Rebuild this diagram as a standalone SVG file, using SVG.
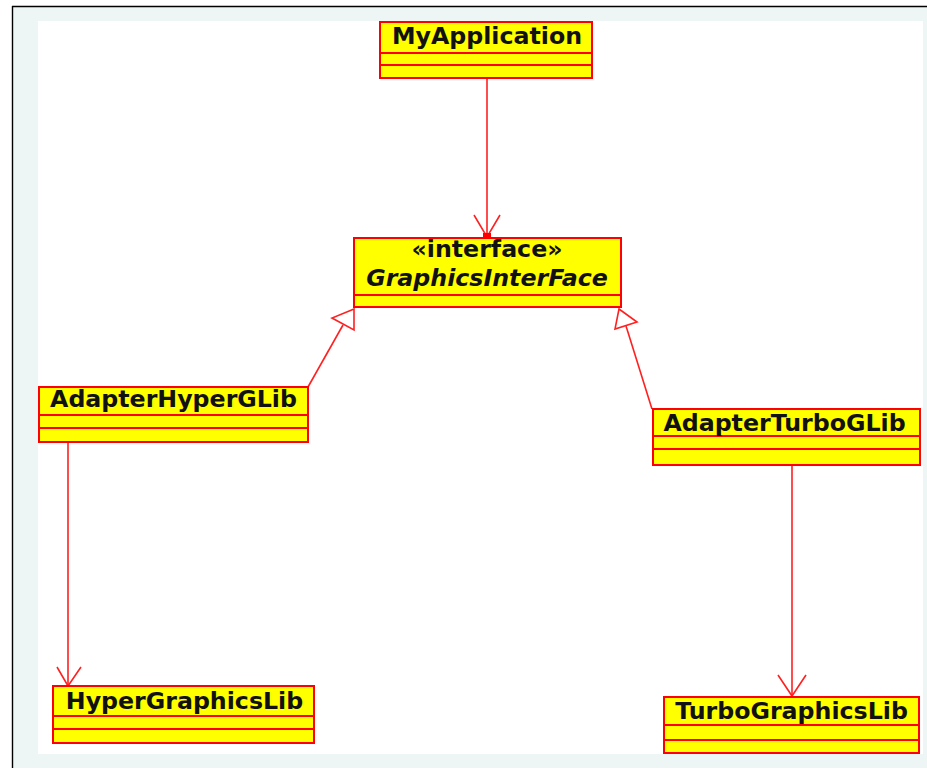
<svg xmlns="http://www.w3.org/2000/svg" width="927" height="773" viewBox="0 0 927 773">
<style>
.box{fill:#ffff00;stroke:#ff0000;stroke-width:2}
.div{stroke:#ff0000;stroke-width:2}
.t{font-family:"DejaVu Sans",sans-serif;font-weight:bold;font-size:23.7px;fill:#111;text-anchor:middle}
.it{font-style:italic}
.ln{stroke:#ff2020;stroke-width:1.6;fill:none}
.tri{stroke:#ff2020;stroke-width:1.6;fill:#fff}
</style>
<rect x="12" y="6" width="915" height="762" fill="#eef6f5"/>
<line x1="12.5" y1="6" x2="12.5" y2="768" stroke="#000" stroke-width="1.4"/>
<line x1="12" y1="6.5" x2="927" y2="6.5" stroke="#000" stroke-width="1.4"/>
<rect x="38" y="21" width="885" height="733" fill="#fff"/>
<g id="connectors">
<line class="ln" x1="487" y1="78" x2="487" y2="237"/>
<polyline class="ln" points="474,215 487,237 500,215"/>
<rect x="483" y="233" width="8" height="5" fill="#ff0000"/>
<line class="ln" x1="308" y1="387" x2="343" y2="325"/>
<polygon class="tri" points="354,309 332,318 354,330"/>
<line class="ln" x1="652" y1="409" x2="626" y2="326"/>
<polygon class="tri" points="619,309 615,329 637,322"/>
<line class="ln" x1="68" y1="442" x2="68" y2="686"/>
<polyline class="ln" points="57,667 68,686 81,667"/>
<line class="ln" x1="792" y1="465" x2="792" y2="696"/>
<polyline class="ln" points="778,675 792,696 806,675"/>
</g>
<g id="MyApplication">
<rect class="box" x="380" y="22" width="212" height="56"/>
<line class="div" x1="380" y1="53" x2="592" y2="53"/>
<line class="div" x1="380" y1="65" x2="592" y2="65"/>
<text class="t" x="487" y="44">MyApplication</text>
</g>
<g id="GraphicsInterFace">
<rect class="box" x="354" y="238" width="267" height="69"/>
<line class="div" x1="354" y1="295" x2="621" y2="295"/>
<text class="t" x="487" y="257">«interface»</text>
<text class="t it" x="487" y="286">GraphicsInterFace</text>
</g>
<g id="AdapterHyperGLib">
<rect class="box" x="39" y="387" width="269" height="55"/>
<line class="div" x1="39" y1="415" x2="308" y2="415"/>
<line class="div" x1="39" y1="428" x2="308" y2="428"/>
<text class="t" x="173.5" y="407">AdapterHyperGLib</text>
</g>
<g id="AdapterTurboGLib">
<rect class="box" x="653" y="409" width="267" height="56"/>
<line class="div" x1="653" y1="436" x2="920" y2="436"/>
<line class="div" x1="653" y1="449" x2="920" y2="449"/>
<text class="t" x="784.5" y="431">AdapterTurboGLib</text>
</g>
<g id="HyperGraphicsLib">
<rect class="box" x="53" y="686" width="261" height="57"/>
<line class="div" x1="53" y1="716" x2="314" y2="716"/>
<line class="div" x1="53" y1="729" x2="314" y2="729"/>
<text class="t" x="184.5" y="709">HyperGraphicsLib</text>
</g>
<g id="TurboGraphicsLib">
<rect class="box" x="664" y="697" width="255" height="56"/>
<line class="div" x1="664" y1="725" x2="919" y2="725"/>
<line class="div" x1="664" y1="740" x2="919" y2="740"/>
<text class="t" x="791.5" y="719">TurboGraphicsLib</text>
</g>
</svg>
